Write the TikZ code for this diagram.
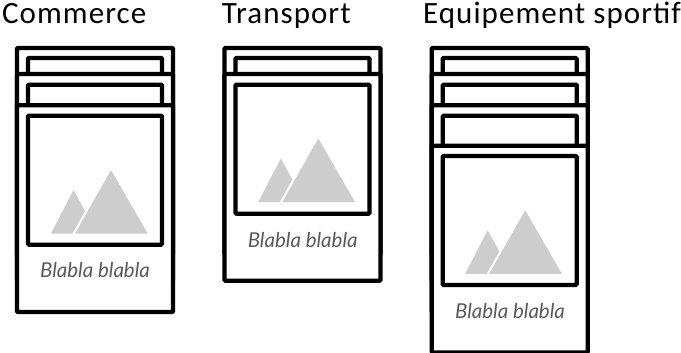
\documentclass[tikz,border=0pt]{standalone}
\usepackage{fontspec}
\setmainfont[LetterSpace=3.4]{Carlito}
\newfontfamily\handfont{Lato Italic}
\usepackage{tikz}

\definecolor{mountaingray}{RGB}{205,205,205}
\definecolor{captiongray}{RGB}{90,90,90}

\tikzset{
  card/.style={rectangle, draw, fill=white, line width=4.3pt, rounded corners=1pt, inner sep=0pt, minimum width=156pt, minimum height=206.7pt},
  frame/.style={rectangle, draw, fill=white, line width=4.3pt, rounded corners=1pt, inner sep=0pt, minimum width=134pt, minimum height=129pt},
  mountain/.style={fill=mountaingray},
  title/.style={anchor=base west, inner sep=0pt, font=\fontsize{31pt}{31pt}\selectfont},
  caption/.style={inner sep=0pt, text=captiongray, font=\handfont\fontsize{20.5pt}{21pt}\selectfont}
}

\begin{document}
\begin{tikzpicture}[x=1pt, y=-1pt]
    \useasboundingbox (0,0) rectangle (681,353);

    % titres
    \node[title] (commerce) at (2, 24) {Commerce};
    \node[title] (transport) at (221.7, 24) {Transport};
    \node[title] (equipement) at (423, 24) {Equipement sportif};

    % Commerce
    \node[card] (C1) at (95, 151.35) {};
    \node[frame] (F1) at (95, 122.5) {};
    \node[card] (C2) at (95, 177.35) {};
    \node[frame] (F2) at (95, 149.2) {};
    \node[card] (C3) at (95, 208.65) {};
    \node[frame] (F3) at (95, 180.2) {};
    \fill[mountain] (51, 233.5) -- (73.5, 190) -- (85, 211) -- (72.5, 233.5) -- cycle;
    \fill[mountain] (75, 233.5) -- (111, 170) -- (147.7, 233.5) -- cycle;
    \node[caption] (L1) at (95, 270) {Blabla blabla};

    % Transport
    \node[card] (C4) at (302.5, 151.35) {};
    \node[frame] (F4) at (302.5, 122.5) {};
    \node[card] (C5) at (302.5, 177.35) {};
    \node[frame] (F5) at (302.5, 149.2) {};
    \fill[mountain] (258.3, 202) -- (280.8, 158.5) -- (292.3, 179.5) -- (279.8, 202) -- cycle;
    \fill[mountain] (282.3, 202) -- (318.3, 138.5) -- (355, 202) -- cycle;
    \node[caption] (L2) at (302.7, 240) {Blabla blabla};

    % Equipement sportif
    \node[card] (C6) at (509.7, 151.35) {};
    \node[frame] (F6) at (509.7, 122.5) {};
    \node[card] (C7) at (509.7, 177.35) {};
    \node[frame] (F7) at (509.7, 149.2) {};
    \node[card] (C8) at (509.7, 208.65) {};
    \node[frame] (F8) at (509.7, 180.2) {};
    \node[card] (C9) at (509.7, 249.05) {};
    \node[frame] (F9) at (509.7, 220.5) {};
    \fill[mountain] (465.2, 273.8) -- (487.7, 230.3) -- (499.2, 251.3) -- (486.7, 273.8) -- cycle;
    \fill[mountain] (489.2, 273.8) -- (525.2, 210.3) -- (561.9, 273.8) -- cycle;
    \node[caption] (L3) at (510, 310.7) {Blabla blabla};
\end{tikzpicture}
\end{document}
